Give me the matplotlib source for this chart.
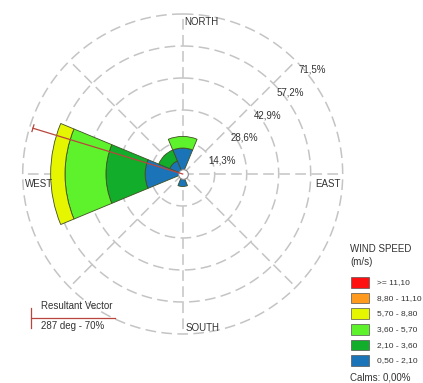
import numpy as np
import matplotlib.pyplot as plt
from matplotlib.lines import Line2D
from matplotlib.patches import Rectangle

plt.rcParams['font.family'] = ['Liberation Sans', 'DejaVu Sans']

W, H = 423, 383

# directions (compass degrees, clockwise from north)
directions = ["N", "NE", "E", "SE", "S", "SW", "W", "NW"]
dir_deg = [0, 45, 90, 135, 180, 225, 270, 315]

# frequency (%) per direction, one list per wind speed class
freq_050_210 = [11.6, 0, 0, 0, 5.6, 0, 16.8, 6.3]
freq_210_360 = [0, 0, 0, 0, 0, 0, 17.5, 5.3]
freq_360_570 = [5.2, 0, 0, 0, 0, 0, 18.3, 0]
freq_570_880 = [0, 0, 0, 0, 0, 0, 6.4, 0]
freq_880_1110 = [0, 0, 0, 0, 0, 0, 0, 0]
freq_ge_1110 = [0, 0, 0, 0, 0, 0, 0, 0]

speed_labels = ["0,50 - 2,10", "2,10 - 3,60", "3,60 - 5,70",
                "5,70 - 8,80", "8,80 - 11,10", ">= 11,10"]
speed_colors = ["#1c74b8", "#12ad2a", "#5ef22c", "#e6f500", "#ff9a1f", "#ff1010"]

ring_values = [14.3, 28.6, 42.9, 57.2, 71.5]
resultant_dir = 287
resultant_pct = 70
calms_pct = 0.00

grid_col = "#c4c4c4"
text_col = "#333333"
vec_col = "#b8463e"
fs = 7
dash = (0, (7, 3.5))


def px(x, y):
    # pixel position (from top-left) -> figure fraction
    return x / W, 1 - y / H


fig = plt.figure(figsize=(W / 100, H / 100), dpi=100)
cx, cy, R = 182.7, 174.0, 160.0
ax = fig.add_axes([(cx - R) / W, (H - cy - R) / H, 2 * R / W, 2 * R / H],
                  projection='polar')
ax.set_theta_zero_location('N')
ax.set_theta_direction(-1)
ax.set_ylim(0, ring_values[-1])
ax.axis('off')

# dashed rings and spokes
t = np.linspace(0, 2 * np.pi, 361)
for r in ring_values:
    ax.plot(t, [r] * len(t), color=grid_col, lw=1.1, ls=dash,
            clip_on=False, zorder=1)
for a in np.deg2rad(np.arange(0, 360, 45)):
    ax.plot([a, a], [0, ring_values[-1]], color=grid_col, lw=1.1,
            ls=dash, clip_on=False, zorder=1)

# stacked petals
theta = np.deg2rad(dir_deg)
width = 2 * np.pi / len(directions)
classes = [freq_050_210, freq_210_360, freq_360_570,
           freq_570_880, freq_880_1110, freq_ge_1110]
bottom = np.zeros(len(directions))
for vals, col in zip(classes, speed_colors):
    vals = np.array(vals, dtype=float)
    mask = vals > 0
    ax.bar(theta[mask], vals[mask], width=width, bottom=bottom[mask],
           color=col, edgecolor="#3f4f22", linewidth=0.6, zorder=3)
    bottom += vals

# calm circle
ax.plot([0], [0], marker='o', ms=7, mfc='white', mec='#888888', mew=0.8,
        zorder=5, clip_on=False)

# resultant vector
rv = np.deg2rad(resultant_dir)
ax.plot([rv, rv], [0, resultant_pct], color=vec_col, lw=0.9, zorder=6)
d = 0.022
ax.plot([rv - d, rv + d], [resultant_pct, resultant_pct], color=vec_col,
        lw=0.9, zorder=6)

# ring labels along the NE spoke
for r in ring_values:
    ax.annotate(f"{r:.1f}%".replace('.', ','), xy=(np.pi / 4, r),
                xytext=(3, -4), textcoords='offset pixels', ha='left',
                va='top', fontsize=fs, color=text_col, zorder=7)

# compass labels
rmax = ring_values[-1]
ax.annotate("NORTH", xy=(0, rmax), xytext=(2, -3), textcoords='offset pixels',
            ha='left', va='top', fontsize=fs, color=text_col)
ax.annotate("EAST", xy=(np.pi / 2, rmax), xytext=(-2, -5),
            textcoords='offset pixels', ha='right', va='top', fontsize=fs,
            color=text_col)
ax.annotate("SOUTH", xy=(np.pi, rmax), xytext=(3, 1),
            textcoords='offset pixels', ha='left', va='bottom', fontsize=fs,
            color=text_col)
ax.annotate("WEST", xy=(1.5 * np.pi, rmax), xytext=(2, -5),
            textcoords='offset pixels', ha='left', va='top', fontsize=fs,
            color=text_col)

# resultant vector key
fig.text(*px(41, 306), "Resultant Vector", ha='left', va='center',
         fontsize=fs, color=text_col)
fig.text(*px(41, 326), f"{resultant_dir} deg - {resultant_pct}%", ha='left',
         va='center', fontsize=fs, color=text_col)
x0, y0 = px(31, 318)
x1, _ = px(115, 318)
fig.add_artist(Line2D([x0, x1], [y0, y0], color=vec_col, lw=0.9,
                      transform=fig.transFigure))
_, yt = px(31, 308)
_, yb = px(31, 328)
fig.add_artist(Line2D([x0, x0], [yb, yt], color=vec_col, lw=0.9,
                      transform=fig.transFigure))

# wind speed key
fig.text(*px(350, 249), "WIND SPEED", ha='left', va='center', fontsize=fs,
         color=text_col)
fig.text(*px(350, 262), "(m/s)", ha='left', va='center', fontsize=fs,
         color=text_col)
narrow = ['Liberation Sans Narrow', 'Liberation Sans', 'DejaVu Sans']
for i, (lab, col) in enumerate(zip(speed_labels[::-1], speed_colors[::-1])):
    top = 277 + i * 15.65
    bx, by = px(351, top + 10.7)
    fig.add_artist(Rectangle((bx, by), 17.5 / W, 10.7 / H, facecolor=col,
                             edgecolor="#555555", lw=0.5,
                             transform=fig.transFigure))
    fig.text(*px(377, top + 5.5), lab, ha='left', va='center', fontsize=6.0,
             family=narrow, color=text_col)
fig.text(*px(350, 378), f"Calms: {calms_pct:.2f}%".replace('.', ','),
         ha='left', va='center', fontsize=fs, color=text_col)

fig.savefig("out.png", dpi=100)
